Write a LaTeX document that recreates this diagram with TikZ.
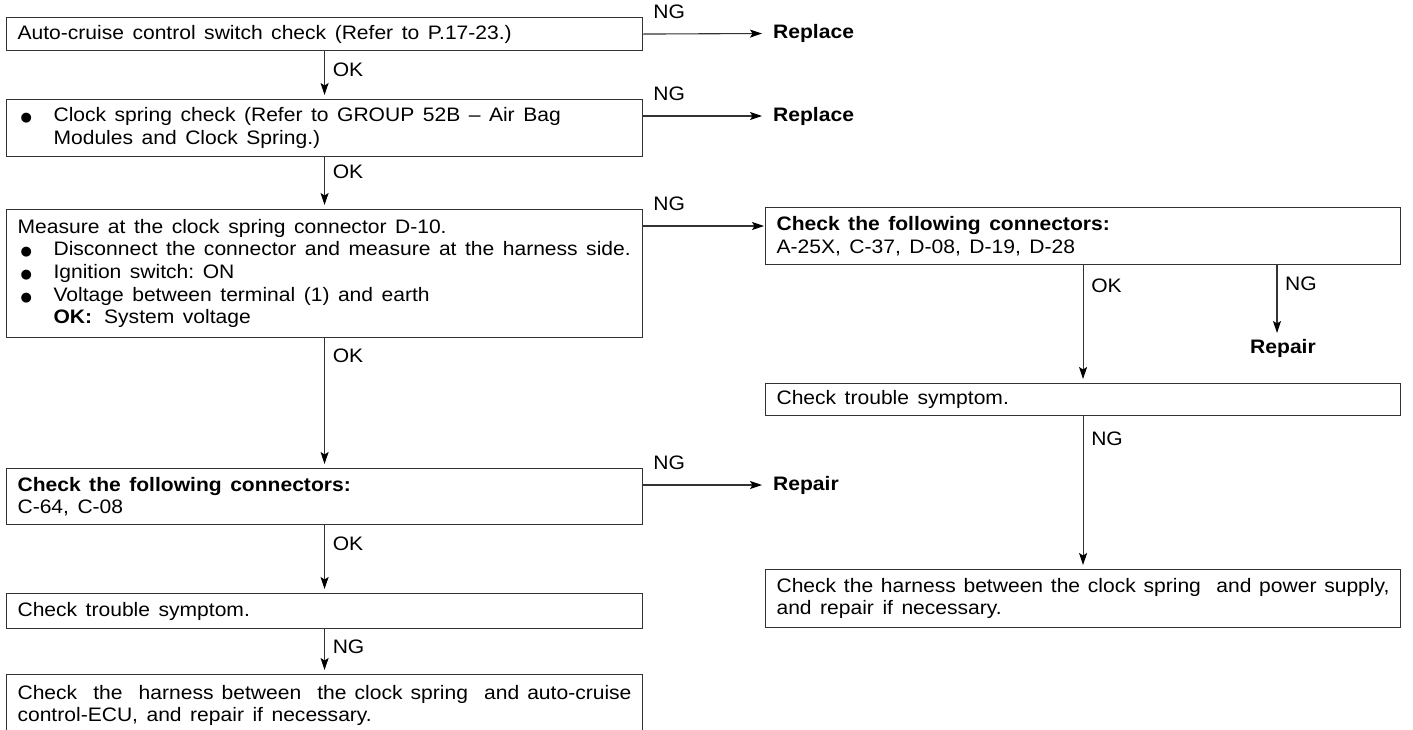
\documentclass[tikz,border=0pt]{standalone}
\usepackage{fontspec}
\setmainfont{Liberation Sans}[FakeStretch=1.08]
\newfontfamily\symf{DejaVu Sans}
\usetikzlibrary{arrows.meta,calc}
\newcommand\txtfont{\fontsize{19.5}{22.7}\selectfont}
\newcommand\widesp{\spaceskip=8.5pt plus 4pt minus 3pt\xspaceskip=8.5pt plus 4pt minus 3pt\relax}
\newcommand\bul{\makebox[36pt][l]{\hspace{3pt}{\symf\fontsize{13}{13}\selectfont ●}}}
\begin{document}
\begin{tikzpicture}[x=1pt,y=-1pt,
  box/.style={draw=black!80, line width=1.1pt, anchor=north west, minimum width=636pt,
    text width=614pt, inner xsep=11pt, inner ysep=0pt, align=left, font=\txtfont,
    execute at begin node=\widesp},
  rbox/.style={box, minimum width=635pt, text width=613pt},
  conn/.style={draw=black!80, line width=1.1pt, -{Stealth[length=12pt,width=8pt,inset=2.5pt,black]}, shorten >=4pt},
  hconn/.style={conn, shorten >=1pt},
  lbl/.style={anchor=west, font=\txtfont, inner sep=0pt},
  res/.style={anchor=west, font=\txtfont\bfseries, inner xsep=10pt, inner ysep=2pt}]
\useasboundingbox (0,0) rectangle (1413,729);

% left column
\node[box, minimum height=33pt] (b1) at (6,17) {Auto-cruise control switch check (Refer to P.17-23.)};
\node[box, minimum height=57pt] (b2) at (6,99) {\bul Clock spring check (Refer to GROUP 52B – Air Bag\\\hspace*{36pt}Modules and Clock Spring.)};
\node[box, minimum height=128pt] (b3) at (6,209) {Measure at the clock spring connector D-10.\\\bul Disconnect the connector and measure at the harness side.\\\bul Ignition switch: ON\\\bul Voltage between terminal (1) and earth\\\hspace*{36pt}\textbf{OK:}\hspace{12pt}System voltage};
\node[box, minimum height=56pt] (b4) at (6,468) {\textbf{Check the following connectors:}\\C-64, C-08};
\node[box, minimum height=35pt] (b5) at (6,593) {Check trouble symptom.};
\node[box, minimum height=62pt] (b6) at (6,674) {\makebox[614pt][s]{Check\ \ the\ \ harness between\ \ the clock spring\ \ and auto-cruise}\\control-ECU, and repair if necessary.};

% right column
\node[rbox, minimum height=57pt] (bA) at (765,207) {\textbf{Check the following connectors:}\\A-25X, C-37, D-08, D-19, D-28};
\node[rbox, minimum height=32pt] (bB) at (765,383) {Check trouble symptom.};
\node[rbox, minimum height=58pt] (bC) at (765,569) {\makebox[613pt][s]{Check the harness between the clock spring\ \ and power supply,}\\and repair if necessary.};

% results
\node[res] (r1) at (763,33.5) {Replace};
\node[res] (r2) at (763,116) {Replace};
\node[res] (r4) at (763,485) {Repair};
\node[font=\txtfont\bfseries, inner sep=0pt] (rA) at (1283,348) {Repair};

% vertical connectors, left
\draw[conn] (b1.south) -- (b2.north);
\draw[conn] (b2.south) -- (b3.north);
\draw[conn] (b3.south) -- (b4.north);
\draw[conn] (b4.south) -- (b5.north);
\draw[conn] (b5.south) -- (b6.north);
\node[lbl] (l1) at ($(b1.south)+(8,19)$) {OK};
\node[lbl] (l2) at ($(b2.south)+(8,15)$) {OK};
\node[lbl] (l3) at ($(b3.south)+(8,18)$) {OK};
\node[lbl] (l4) at ($(b4.south)+(8,19)$) {OK};
\node[lbl] (l5) at ($(b5.south)+(8,18)$) {NG};

% horizontal NG connectors
\coordinate (n2) at ($(b2.north east)+(0,17)$);
\coordinate (n3) at ($(b3.north east)+(0,17)$);
\coordinate (n4) at ($(b4.north east)+(0,17)$);
\draw[hconn] (b1.east) -- (r1.west);
\draw[hconn] (n2) -- (r2.west);
\draw[hconn] (n3) -- (n3 -| bA.west);
\draw[hconn] (n4) -- (r4.west);
\node[lbl] (g1) at ($(b1.north east)+(10,-5)$) {NG};
\node[lbl] (g2) at ($(b2.north east)+(10,-5)$) {NG};
\node[lbl] (g3) at ($(b3.north east)+(10,-5)$) {NG};
\node[lbl] (g4) at ($(b4.north east)+(10,-5)$) {NG};

% right column connectors
\draw[conn] (bA.south) -- (bB.north);
\draw[conn] (bB.south) -- (bC.north);
\coordinate (ngA) at (1277,337);
\draw[conn] (bA.south -| ngA) -- (ngA);
\node[lbl] (lA) at ($(bA.south)+(8,21)$) {OK};
\node[lbl] (lA2) at ($(bA.south -| ngA)+(8,19)$) {NG};
\node[lbl] (lB) at ($(bB.south)+(8,23)$) {NG};
\end{tikzpicture}
\end{document}
